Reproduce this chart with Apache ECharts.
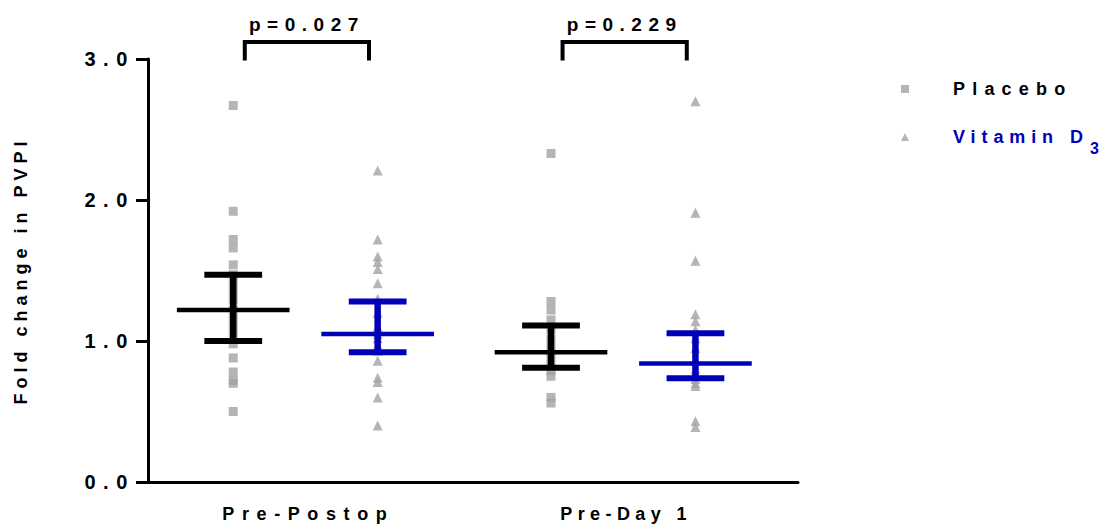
<!DOCTYPE html>
<html>
<head>
<meta charset="utf-8">
<script src="https://cdn.jsdelivr.net/npm/echarts@6/dist/echarts.min.js"></script>
<style>
  html, body { margin: 0; padding: 0; background: #fff; }
  #chart { width: 1117px; height: 531px; }
  /* wide tracking used throughout the figure */
  #chart text { letter-spacing: 6.5px; }
</style>
</head>
<body>
<div id="chart"></div>
<script>
// ---- data -------------------------------------------------------------
const categories = ['Pre-Postop', 'Pre-Day 1'];
const armNames = ['Placebo', 'Vitamin D3'];
const yTicks = [0, 1, 2, 3];
const yAxisTitle = 'Fold change in PVPI';

// individual fold changes
const placeboPrePostop = [2.67, 1.92, 1.72, 1.66, 1.54, 1.47, 1.41, 1.35, 1.29, 1.22, 1.16, 1.10, 1.04, 0.98, 0.88, 0.78, 0.72, 0.70, 0.50];
const placeboPreDay1   = [2.33, 1.28, 1.22, 1.15, 1.08, 1.01, 0.95, 0.89, 0.83, 0.79, 0.75, 0.60, 0.56];
const vitaminPrePostop = [2.21, 1.72, 1.60, 1.56, 1.51, 1.41, 1.30, 1.20, 1.10, 1.05, 1.02, 0.97, 0.93, 0.86, 0.74, 0.71, 0.60, 0.40];
const vitaminPreDay1   = [2.70, 1.91, 1.57, 1.19, 1.14, 1.08, 1.02, 0.95, 0.86, 0.80, 0.76, 0.73, 0.70, 0.68, 0.43, 0.39];

// central value and interval, one entry per category
const placeboCenter = [1.22, 0.92];
const placeboLower  = [1.00, 0.81];
const placeboUpper  = [1.47, 1.11];
const vitaminCenter = [1.05, 0.84];
const vitaminLower  = [0.92, 0.735];
const vitaminUpper  = [1.28, 1.055];

// between-arm comparison per category
const pLabels = ['p=0.027', 'p=0.229'];

// ---- layout -----------------------------------------------------------
const FONT = 'Liberation Sans, Arial, sans-serif';
const GRAY = '#a3a3a6';
const BLUE = '#0000b8';
const categoryX = [1.09, 3.29];      // category centres on the x scale
const labelNudge = 0.02;             // category names sit slightly right of centre
const armOffset = [-0.5, 0.5];       // placebo left, vitamin right
const meanHalf = 0.39, capHalf = 0.2;
const bracketInset = [0.08, 0.06], bracketBase = 2.99, bracketTop = 3.12, pLabelY = 3.245;

// tracking per label (px), keyed by the drawn string
const tracking = {
  'Pre-Postop': 7.6, 'Pre-Day 1': 5.4,
  'Placebo': 7.2, 'Vitamin D': 5.9, '3': 0,
  [yAxisTitle]: 5.0
};
const tickTracking = 7.6;

function points(groups, arm) {
  const out = [];
  groups.forEach((vals, i) => vals.forEach(v => out.push([categoryX[i] + armOffset[arm], v])));
  return out;
}
function summary(center, lower, upper, arm) {
  return center.map((c, i) => [categoryX[i] + armOffset[arm], c, lower[i], upper[i]]);
}
function summaryRenderer(color) {
  return function (params, api) {
    const x = api.value(0);
    const c = api.coord([x, api.value(1)]);
    const lo = api.coord([x, api.value(2)]);
    const hi = api.coord([x, api.value(3)]);
    const mw = api.size([meanHalf, 0])[0];
    const cw = api.size([capHalf, 0])[0];
    return {
      type: 'group',
      children: [
        { type: 'line', shape: { x1: c[0], y1: lo[1], x2: c[0], y2: hi[1] }, style: { stroke: color, lineWidth: 6.5 } },
        { type: 'line', shape: { x1: c[0] - cw, y1: hi[1], x2: c[0] + cw, y2: hi[1] }, style: { stroke: color, lineWidth: 6 } },
        { type: 'line', shape: { x1: c[0] - cw, y1: lo[1], x2: c[0] + cw, y2: lo[1] }, style: { stroke: color, lineWidth: 6 } },
        { type: 'line', shape: { x1: c[0] - mw, y1: c[1], x2: c[0] + mw, y2: c[1] }, style: { stroke: color, lineWidth: 4.5 } }
      ]
    };
  };
}

const chart = echarts.init(document.getElementById('chart'), null, { renderer: 'svg' });

const labelStyle = { color: '#000', fontFamily: FONT, fontWeight: 'bold' };
const labelX = categoryX.map(x => x + labelNudge);

chart.setOption({
  animation: false,
  backgroundColor: '#fff',
  grid: { left: 148, right: 319, top: 59, bottom: 49, containLabel: false, outerBoundsMode: 'none' },
  xAxis: {
    type: 'value', min: 0, max: 4.5,
    axisLine: { show: true, lineStyle: { color: '#000', width: 3 } },
    axisTick: { show: false },
    splitLine: { show: false },
    axisLabel: {
      ...labelStyle, fontSize: 18, margin: 23,
      customValues: labelX,
      formatter: v => categories[labelX.indexOf(v)] || ''
    }
  },
  yAxis: {
    type: 'value', min: yTicks[0], max: yTicks[yTicks.length - 1], interval: 1,
    name: yAxisTitle, nameLocation: 'middle', nameRotate: 90, nameGap: 118,
    nameTextStyle: { ...labelStyle, fontSize: 18 },
    axisLine: { show: true, lineStyle: { color: '#000', width: 3 } },
    axisTick: { show: true, length: 12, lineStyle: { color: '#000', width: 3 } },
    splitLine: { show: false },
    axisLabel: { ...labelStyle, fontSize: 20, margin: 13, formatter: v => v.toFixed(1) }
  },
  legend: [
    {
      data: [{ name: armNames[0] }], left: 901, top: 80, padding: 0,
      itemWidth: 8, itemHeight: 8, selectedMode: false,
      textStyle: { ...labelStyle, fontSize: 18, padding: [0, 0, 0, 39] }
    },
    {
      data: [{ name: armNames[1] }], left: 901, top: 118, padding: 0,
      itemWidth: 8, itemHeight: 8, selectedMode: false,
      formatter: () => '{a|Vitamin D}{s|3}',
      textStyle: {
        ...labelStyle, color: BLUE, fontSize: 18, padding: [0, 0, 0, 39],
        rich: {
          a: { width: 137, fontSize: 18, fontWeight: 'bold', fontFamily: FONT, color: BLUE, lineHeight: 20 },
          s: { fontSize: 16, fontWeight: 'bold', fontFamily: FONT, color: BLUE, lineHeight: 20, padding: [22, 0, 0, 0] }
        }
      }
    }
  ],
  series: [
    {
      name: armNames[0], type: 'scatter', symbol: 'rect', symbolSize: 9,
      itemStyle: { color: GRAY }, z: 2,
      data: points([placeboPrePostop, placeboPreDay1], 0)
    },
    {
      name: armNames[1], type: 'scatter', symbol: 'triangle', symbolSize: 10,
      itemStyle: { color: GRAY }, z: 2,
      data: points([vitaminPrePostop, vitaminPreDay1], 1)
    },
    {
      type: 'custom', z: 5, silent: true,
      renderItem: summaryRenderer('#000'),
      encode: { x: 0, y: [1, 2, 3] },
      data: summary(placeboCenter, placeboLower, placeboUpper, 0)
    },
    {
      type: 'custom', z: 5, silent: true,
      renderItem: summaryRenderer(BLUE),
      encode: { x: 0, y: [1, 2, 3] },
      data: summary(vitaminCenter, vitaminLower, vitaminUpper, 1)
    },
    {
      type: 'custom', z: 5, silent: true, clip: false,
      encode: { x: [0, 1] },
      data: categoryX.map(cx => [cx + armOffset[0] + bracketInset[0], cx + armOffset[1] - bracketInset[1]]),
      renderItem: function (params, api) {
        const a = api.coord([api.value(0), bracketBase]);
        const b = api.coord([api.value(1), bracketTop]);
        const t = api.coord([(api.value(0) + api.value(1)) / 2, pLabelY]);
        return {
          type: 'group',
          children: [
            {
              type: 'polyline',
              shape: { points: [[a[0], a[1]], [a[0], b[1]], [b[0], b[1]], [b[0], a[1]]] },
              style: { stroke: '#000', lineWidth: 4, fill: null, lineJoin: 'miter' }
            },
            {
              type: 'text', x: t[0], y: t[1],
              style: { text: pLabels[params.dataIndex], fill: '#000', font: 'bold 19px ' + FONT, align: 'center', verticalAlign: 'middle' }
            }
          ]
        };
      }
    }
  ]
});

function applyTracking() {
  document.querySelectorAll('#chart text').forEach(t => {
    const s = t.textContent;
    if (s in tracking) t.style.letterSpacing = tracking[s] + 'px';
    else if (/^\d\.\d$/.test(s)) t.style.letterSpacing = tickTracking + 'px';
  });
}
chart.on('finished', applyTracking);
applyTracking();
setTimeout(applyTracking, 0);
</script>
</body>
</html>
